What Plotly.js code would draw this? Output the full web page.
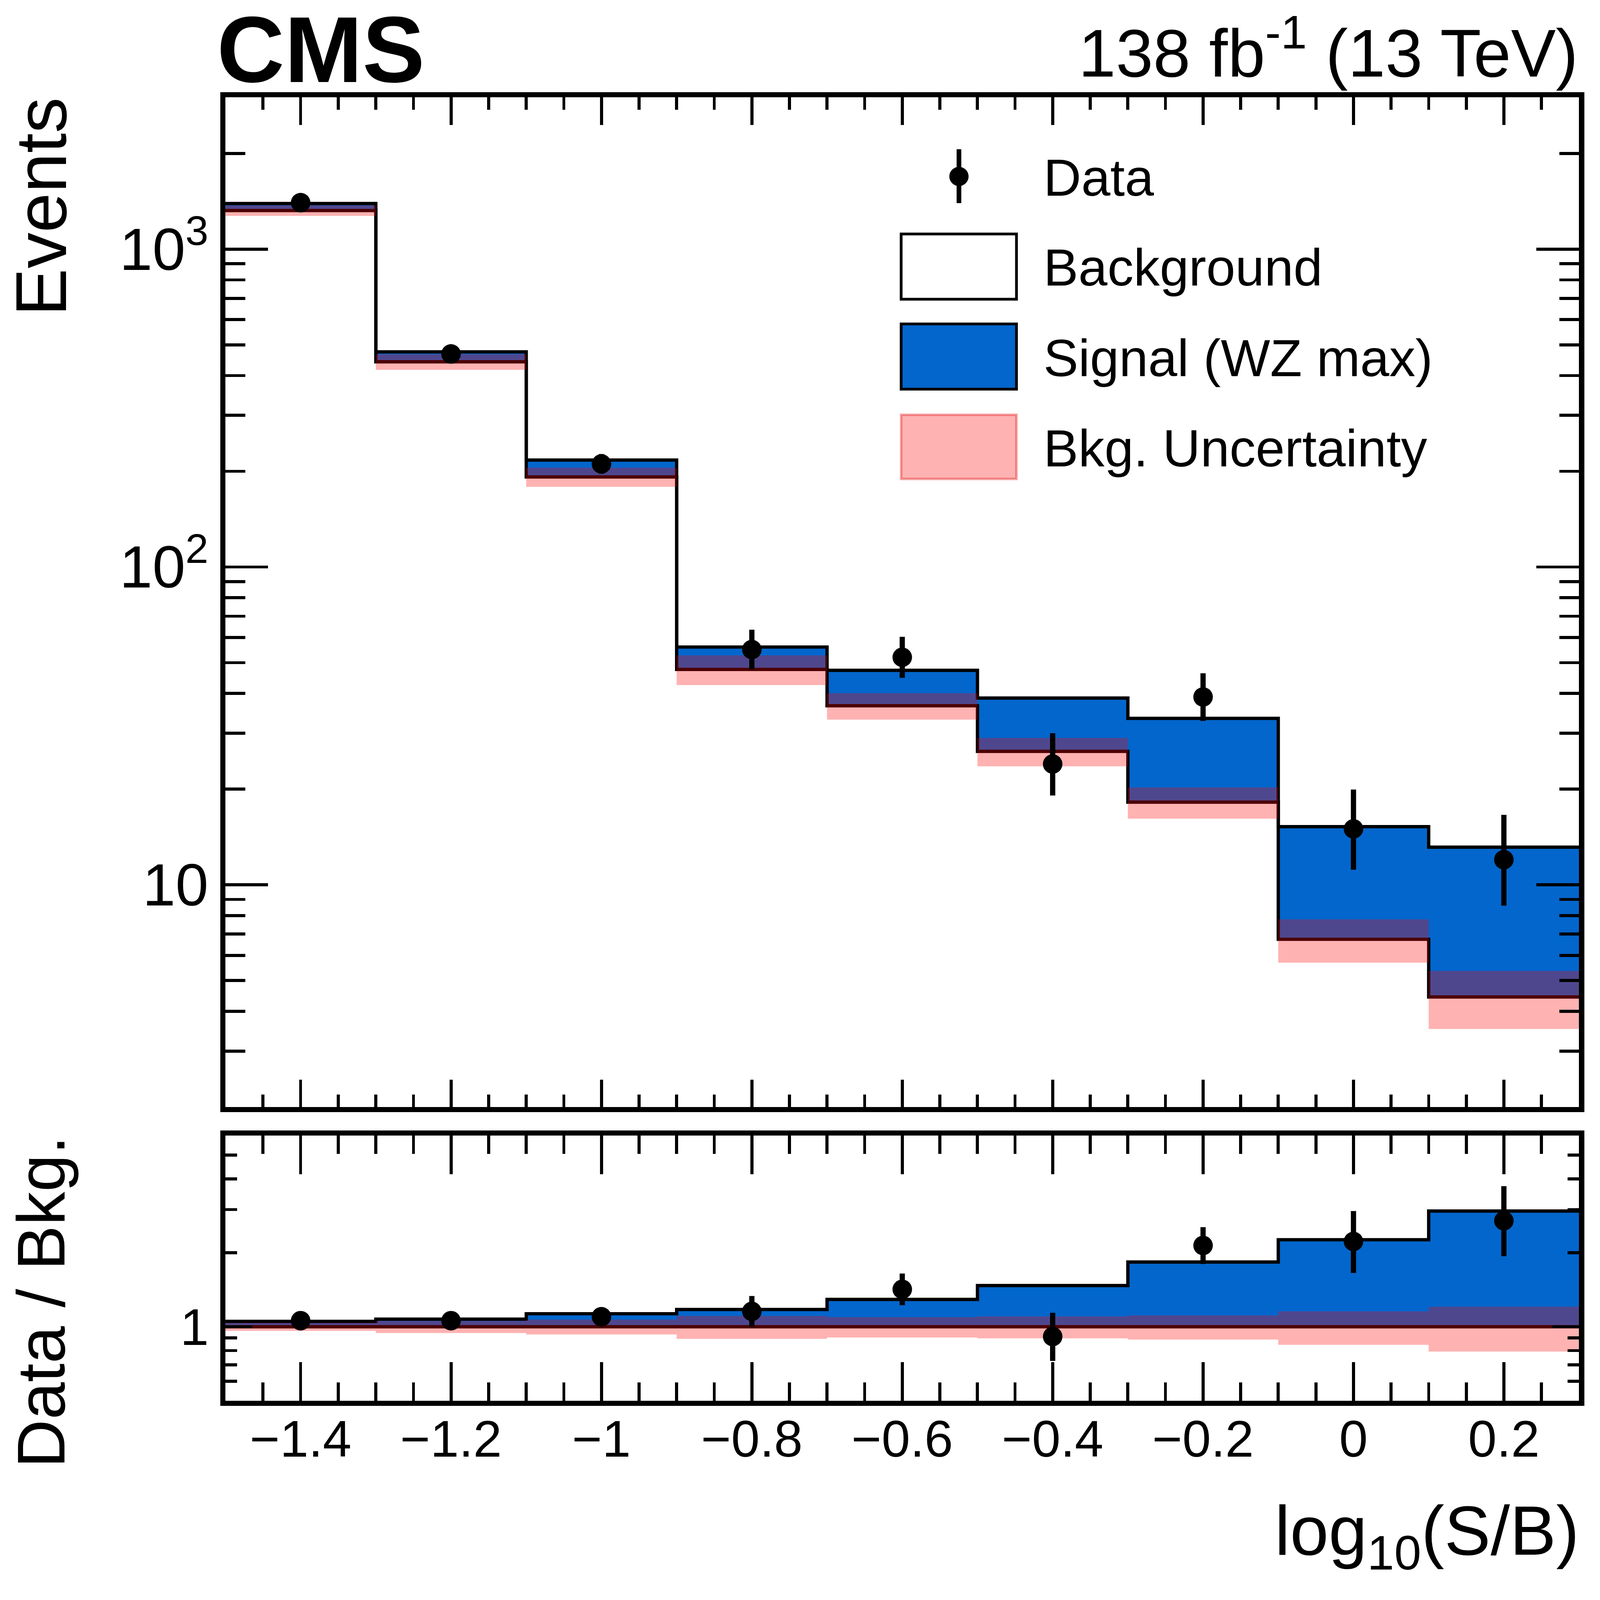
<!DOCTYPE html>
<html>
<head>
<meta charset="utf-8">
<script src="https://cdn.plot.ly/plotly-3.0.1.min.js"></script>
<style>
  html, body { margin: 0; padding: 0; background: #fff; overflow: hidden; }
  #chart { transform-origin: 0 0; }
</style>
</head>
<body>
<div id="chart"></div>
<script>
// bins of log10(S/B)
var binEdges = [-1.5, -1.3, -1.1, -0.9, -0.7, -0.5, -0.3, -0.1, 0.1, 0.3];
var binCenters = [-1.4, -1.2, -1.0, -0.8, -0.6, -0.4, -0.2, 0.0, 0.2];

// expected yields
var background = [1322, 442, 192, 47.6, 36.6, 26.3, 18.2, 6.74, 4.44];
var signal = [69, 33, 25, 8.4, 10.7, 12.4, 15.2, 8.5, 8.7];
var bkgUnc = [50, 25, 13.3, 5.1, 3.5, 2.7, 2.05, 1.05, 0.92];

// observed events with asymmetric errors
var data = [1400, 468, 211, 55, 52, 24, 39, 15, 12];
var dataErrUp = [38.4, 22.7, 15.6, 8.5, 8.3, 6.0, 7.3, 4.95, 4.6];
var dataErrDown = [37.4, 21.6, 14.5, 7.4, 7.2, 4.9, 6.2, 3.84, 3.4];

var xTickVals = [-1.4, -1.2, -1, -0.8, -0.6, -0.4, -0.2, 0, 0.2];
var xTickText = ['\u22121.4', '\u22121.2', '\u22121', '\u22120.8', '\u22120.6', '\u22120.4', '\u22120.2', '0', '0.2'];

var BLUE = '#0366cc';
var BAND = 'rgba(255,0,0,0.3)';
var FONT = 'Liberation Sans, Arial, Helvetica, sans-serif';

// page geometry (pixels of the picture)
var W = 5813, H = 5768;
var L = 819, R = 5737, T = 354, B = 5089;
function px(X) { return (X - L) / (R - L); }
function py(Y) { return (B - Y) / (B - T); }

// histogram helpers: step outline over bin edges
function steps(v) { return v.concat([v[v.length - 1]]); }
function add(a, b) { return a.map(function (x, i) { return x + b[i]; }); }
function sub(a, b) { return a.map(function (x, i) { return x - b[i]; }); }
function div(a, b) { return a.map(function (x, i) { return x / b[i]; }); }

var total = add(background, signal);
var ones = background.map(function () { return 1; });

function stepTrace(y, xa, ya, opts) {
    var t = {
        x: binEdges, y: steps(y), xaxis: xa, yaxis: ya,
        mode: 'lines', line: {shape: 'hv', color: 'black', width: 12},
        hoverinfo: 'skip', showlegend: false
    };
    return Object.assign(t, opts || {});
}
var noLine = {shape: 'hv', width: 0, color: 'rgba(0,0,0,0)'};

function dataTrace(y, up, down, xa, ya) {
    return {
        x: binCenters, y: y, xaxis: xa, yaxis: ya,
        mode: 'markers', marker: {color: 'black', size: 71},
        error_y: {type: 'data', symmetric: false, array: up, arrayminus: down,
                  color: 'black', thickness: 19, width: 0},
        hoverinfo: 'skip', showlegend: false
    };
}

var traces = [
    // main panel
    stepTrace(background, 'x', 'y'),
    stepTrace(total, 'x', 'y', {fill: 'tonexty', fillcolor: BLUE}),
    stepTrace(sub(background, bkgUnc), 'x', 'y', {line: noLine}),
    stepTrace(add(background, bkgUnc), 'x', 'y', {line: noLine, fill: 'tonexty', fillcolor: BAND}),
    dataTrace(data, dataErrUp, dataErrDown, 'x', 'y'),
    // ratio panel
    stepTrace(ones, 'x2', 'y2'),
    stepTrace(div(total, background), 'x2', 'y2', {fill: 'tonexty', fillcolor: BLUE}),
    stepTrace(sub(ones, div(bkgUnc, background)), 'x2', 'y2', {line: noLine}),
    stepTrace(add(ones, div(bkgUnc, background)), 'x2', 'y2', {line: noLine, fill: 'tonexty', fillcolor: BAND}),
    dataTrace(div(data, background), div(dataErrUp, background), div(dataErrDown, background), 'x2', 'y2')
];

function logMinor(lo, hi) {
    var out = [];
    for (var d = lo; d <= hi; d *= 10) {
        for (var k = 2; k <= 9; k++) out.push(k * d);
    }
    return out;
}

var frame = {showline: true, linecolor: 'black', linewidth: 19, mirror: 'ticks',
             ticks: 'inside', tickcolor: 'black', tickwidth: 11, showgrid: false, zeroline: false};

var layout = {
    width: W, height: H,
    margin: {l: L, r: W - R, t: T, b: H - B, pad: 0},
    paper_bgcolor: 'white', plot_bgcolor: 'white',
    font: {family: FONT, color: 'black'},
    showlegend: false, hovermode: false,
    xaxis: Object.assign({}, frame, {
        domain: [0, 1], anchor: 'y', range: [-1.5, 0.3], matches: 'x2',
        tickmode: 'array', tickvals: xTickVals, ticklen: 100, showticklabels: false,
        minor: {tickmode: 'linear', tick0: -1.5, dtick: 0.05, ticks: 'inside', ticklen: 45, tickwidth: 11, tickcolor: 'black'}
    }),
    yaxis: Object.assign({}, frame, {
        domain: [(B - 4022) / (B - T), 1], anchor: 'x', type: 'log',
        range: [Math.log10(2), Math.log10(3000)],
        tickmode: 'array', tickvals: [10, 100, 1000], ticktext: ['10', '10<sup>2</sup>', '10<sup>3</sup>'],
        ticklen: 155, tickfont: {size: 215, family: FONT}, ticklabelstandoff: 0,
        minor: {tickmode: 'array', tickvals: logMinor(1, 1000), ticks: 'inside', ticklen: 72, tickwidth: 11, tickcolor: 'black'}
    }),
    xaxis2: Object.assign({}, frame, {
        domain: [0, 1], anchor: 'y2', range: [-1.5, 0.3],
        tickmode: 'array', tickvals: xTickVals, ticktext: xTickText, ticklen: 140,
        tickfont: {size: 187, family: FONT}, ticklabelstandoff: -40,
        minor: {tickmode: 'linear', tick0: -1.5, dtick: 0.05, ticks: 'inside', ticklen: 66, tickwidth: 11, tickcolor: 'black'}
    }),
    yaxis2: Object.assign({}, frame, {
        domain: [0, (B - 4126) / (B - T)], anchor: 'x2', type: 'log',
        range: [Math.log10(0.5), Math.log10(6)],
        tickmode: 'array', tickvals: [1], ticktext: ['1'], ticklen: 97,
        tickfont: {size: 187, family: FONT}, ticklabelstandoff: 4,
        minor: {tickmode: 'array', tickvals: [0.6, 0.7, 0.8, 0.9, 2, 3, 4, 5], ticks: 'inside', ticklen: 42, tickwidth: 11, tickcolor: 'black'}
    }),
    shapes: [
        // legend swatches
        {type: 'line', xref: 'paper', yref: 'paper', x0: px(3484), x1: px(3484), y0: py(542), y1: py(738),
         line: {color: 'black', width: 17}},
        {type: 'circle', xref: 'paper', yref: 'paper', x0: px(3449), x1: px(3519), y0: py(606), y1: py(676),
         fillcolor: 'black', line: {color: 'black', width: 0}},
        {type: 'rect', xref: 'paper', yref: 'paper', x0: px(3274), x1: px(3693), y0: py(850), y1: py(1087),
         fillcolor: 'white', line: {color: 'black', width: 10}},
        {type: 'rect', xref: 'paper', yref: 'paper', x0: px(3274), x1: px(3693), y0: py(1177), y1: py(1414),
         fillcolor: BLUE, line: {color: 'black', width: 10}},
        {type: 'rect', xref: 'paper', yref: 'paper', x0: px(3274), x1: px(3693), y0: py(1507), y1: py(1740),
         fillcolor: BAND, line: {color: 'rgba(220,0,0,0.35)', width: 9}}
    ],
    annotations: [
        {text: '<b>CMS</b>', xref: 'paper', yref: 'paper', x: px(786), y: py(180), xanchor: 'left', yanchor: 'middle',
         showarrow: false, font: {size: 340, family: FONT}},
        {text: '138 fb<sup>-1</sup> (13 TeV)', xref: 'paper', yref: 'paper', x: px(5736), y: py(175), xanchor: 'right', yanchor: 'middle',
         showarrow: false, font: {size: 244, family: FONT}},
        {text: 'Events', textangle: -90, xref: 'paper', yref: 'paper', x: px(150), y: py(352), xanchor: 'center', yanchor: 'top',
         showarrow: false, font: {size: 260, family: FONT}},
        {text: 'Data / Bkg.', textangle: -90, xref: 'paper', yref: 'paper', x: px(150), y: py(4125), xanchor: 'center', yanchor: 'top',
         showarrow: false, font: {size: 244, family: FONT}},
        {text: 'log<sub>10</sub>(S/B)', xref: 'paper', yref: 'paper', x: px(5740), y: py(5580), xanchor: 'right', yanchor: 'middle',
         showarrow: false, font: {size: 252, family: FONT}},
        {text: 'Data', xref: 'paper', yref: 'paper', x: px(3789), y: py(645), xanchor: 'left', yanchor: 'middle',
         showarrow: false, font: {size: 190, family: FONT}},
        {text: 'Background', xref: 'paper', yref: 'paper', x: px(3789), y: py(971), xanchor: 'left', yanchor: 'middle',
         showarrow: false, font: {size: 190, family: FONT}},
        {text: 'Signal (WZ max)', xref: 'paper', yref: 'paper', x: px(3789), y: py(1301), xanchor: 'left', yanchor: 'middle',
         showarrow: false, font: {size: 190, family: FONT}},
        {text: 'Bkg. Uncertainty', xref: 'paper', yref: 'paper', x: px(3789), y: py(1628), xanchor: 'left', yanchor: 'middle',
         showarrow: false, font: {size: 190, family: FONT}}
    ]
};

// the layout is drawn in picture pixels, then fitted to the actual viewport
var fit = Math.min(window.innerWidth / W, window.innerHeight / H);
document.getElementById('chart').style.transform = 'scale(' + fit + ')';

Plotly.newPlot('chart', traces, layout, {displayModeBar: false, staticPlot: true});
</script>
</body>
</html>
